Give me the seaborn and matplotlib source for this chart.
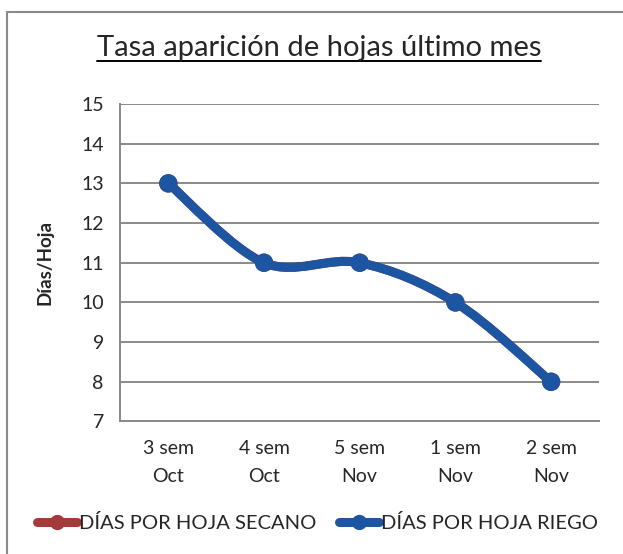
import numpy as np
import pandas as pd
import seaborn as sns
import matplotlib.pyplot as plt
from matplotlib.path import Path
from matplotlib.patches import PathPatch, Rectangle
from matplotlib.lines import Line2D

# data
semanas = ["3 sem\nOct", "4 sem\nOct", "5 sem\nNov", "1 sem\nNov", "2 sem\nNov"]
dias_secano = [13, 11, 11, 10, 8]
dias_riego = [13, 11, 11, 10, 8]
series_names = ["DÍAS POR HOJA SECANO", "DÍAS POR HOJA RIEGO"]
series_colors = ["#A33B3B", "#1C56A3"]
y_ticks = [7, 8, 9, 10, 11, 12, 13, 14, 15]

title = "Tasa aparición de hojas último mes"
y_label = "Días/Hoja"


def smooth_path(xs, ys):
    """Bezier path through the points, like Excel's smoothed line."""
    pts = np.column_stack([xs, ys]).astype(float)
    ext = np.vstack([pts[0], pts, pts[-1]])
    verts = [pts[0]]
    codes = [Path.MOVETO]
    for i in range(len(pts) - 1):
        p0, p1, p2, p3 = ext[i], ext[i + 1], ext[i + 2], ext[i + 3]
        verts += [p1 + (p2 - p0) / 6, p2 - (p3 - p1) / 6, p2]
        codes += [Path.CURVE4] * 3
    return Path(verts, codes)


sns.set_style("white")
plt.rcParams["font.family"] = ["Lato", "DejaVu Sans"]

df = pd.DataFrame({
    "semana": semanas * 2,
    "dias": dias_secano + dias_riego,
    "serie": [series_names[0]] * len(semanas) + [series_names[1]] * len(semanas),
})

fig = plt.figure(figsize=(6.23, 5.54), dpi=100)
ax = fig.add_axes([0.1934, 0.2392, 0.768, 0.5731])

xpos = np.arange(len(semanas))
for name, vals, col in zip(series_names, [dias_secano, dias_riego], series_colors):
    ax.add_patch(PathPatch(smooth_path(xpos, vals), facecolor="none",
                           edgecolor=col, lw=6.5, capstyle="round", zorder=3))
sns.scatterplot(data=df, x="semana", y="dias", hue="serie", palette=series_colors,
                s=175, edgecolor="none", legend=False, zorder=4, ax=ax)

ax.set_xlim(-0.5, len(semanas) - 0.5)
ax.set_ylim(7, 15)
ax.set_yticks(y_ticks)
ax.set_xticks(xpos)
ax.set_xticklabels(semanas, linespacing=1.85)
ax.set_xticks(np.arange(len(semanas) + 1) - 0.5, minor=True)
ax.tick_params(axis="x", which="major", length=0, pad=13, labelsize=14)
ax.tick_params(axis="x", which="minor", length=5, width=1.3, color="#8A8A8A",
               direction="out")
ax.tick_params(axis="y", length=5, width=1.3, color="#8A8A8A", direction="out",
               pad=7, labelsize=14)
ax.yaxis.grid(True, color="#8A8A8A", lw=1.4)
ax.set_axisbelow(True)
for side in ["top", "right"]:
    ax.spines[side].set_visible(False)
for side in ["left", "bottom"]:
    ax.spines[side].set_color("#8A8A8A")
    ax.spines[side].set_linewidth(1.4)
ax.set_xlabel("")
ax.set_ylabel(y_label, fontsize=13.5, fontweight="bold")
ax.yaxis.set_label_coords(-0.14, 0.5)

# title with underline
t = fig.text(0.512, 0.913, title, ha="center", va="center", fontsize=21)
fig.canvas.draw()
bb = t.get_window_extent().transformed(fig.transFigure.inverted())
fig.add_artist(Line2D([bb.x0, bb.x1], [bb.y0 + 0.001, bb.y0 + 0.001],
                      color="black", lw=1.4, transform=fig.transFigure))

# chart frame (cut at the right/bottom edge like the reference)
fig.add_artist(Rectangle((7 / 623, -0.05), 1.1, 0.05 + 1 - 12 / 554,
                         transform=fig.transFigure, fill=False,
                         edgecolor="#8A8A8A", lw=1.5))

handles = [Line2D([], [], color=c, lw=6.5, marker="o", markersize=10)
           for c in series_colors]
fig.legend(handles, series_names, loc="center", bbox_to_anchor=(0.51, 0.056),
           ncol=2, frameon=False, fontsize=14.5, handlelength=2.0,
           handletextpad=0.1, columnspacing=1.1)

fig.savefig("out.png", dpi=100)
